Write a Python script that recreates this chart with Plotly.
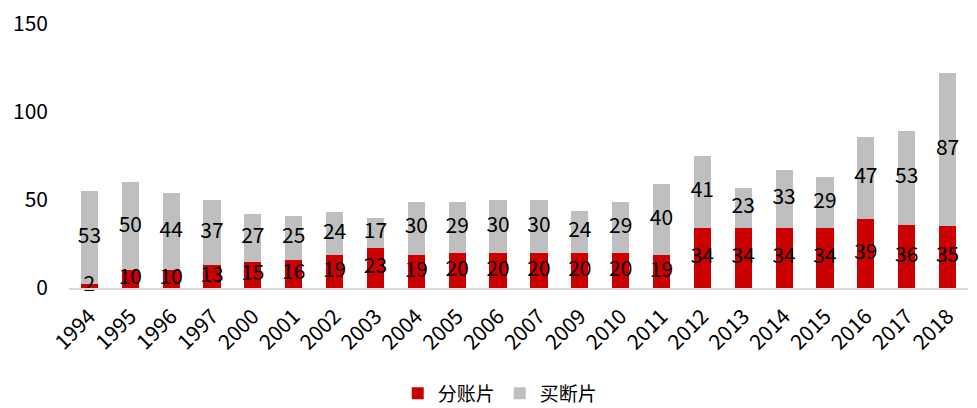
import plotly.graph_objects as go

years = ["1994", "1995", "1996", "1997", "2000", "2001", "2002", "2003", "2004", "2005", "2006",
         "2007", "2009", "2010", "2011", "2012", "2013", "2014", "2015", "2016", "2017", "2018"]
fenzhang = [2, 10, 10, 13, 15, 16, 19, 23, 19, 20, 20, 20, 20, 20, 19, 34, 34, 34, 34, 39, 36, 35]
maiduan = [53, 50, 44, 37, 27, 25, 24, 17, 30, 29, 30, 30, 24, 29, 40, 41, 23, 33, 29, 47, 53, 87]
y_ticks = [0, 50, 100, 150]

FONT = "Noto Sans CJK SC, Microsoft YaHei, sans-serif"
FS = 21

fig = go.Figure()
fig.add_trace(go.Bar(
    x=years, y=fenzhang, name="分账片", marker=dict(color="#CC0000", line_width=0),
))
fig.add_trace(go.Bar(
    x=years, y=maiduan, name="买断片", marker=dict(color="#BFBFBF", line_width=0),
))
# labels at the middle of each segment
mid_red = [v / 2 for v in fenzhang]
mid_gray = [r + g / 2 for r, g in zip(fenzhang, maiduan)]
fig.add_trace(go.Scatter(
    x=years, y=mid_red, mode="text", text=[str(v) for v in fenzhang],
    textposition="middle center", textfont=dict(size=FS, color="black", family=FONT),
    showlegend=False, hoverinfo="skip", cliponaxis=False,
))
fig.add_trace(go.Scatter(
    x=years, y=mid_gray, mode="text", text=[str(v) for v in maiduan],
    textposition="middle center", textfont=dict(size=FS, color="black", family=FONT),
    showlegend=False, hoverinfo="skip", cliponaxis=False,
))

fig.update_layout(
    barmode="stack",
    bargap=0.58,
    width=977, height=408,
    margin=dict(l=69, r=9, t=24, b=120),
    paper_bgcolor="white", plot_bgcolor="white",
    font=dict(family=FONT, size=FS, color="black"),
    legend=dict(orientation="h", xref="container", yref="container",
                x=0.512, xanchor="center", y=0.036, yanchor="middle",
                font=dict(size=19), itemwidth=30, traceorder="normal"),
    showlegend=True,
)
fig.update_xaxes(
    type="category", range=[-0.5, len(years) - 0.5], tickangle=-45, showgrid=False,
    showline=True, linecolor="#D9D9D9",
    linewidth=2, ticks="", tickfont=dict(size=FS), ticklabelstandoff=6, automargin=False,
)
fig.update_yaxes(
    range=[0, 150], tickvals=y_ticks, showgrid=False, showline=False, zeroline=False,
    ticks="", tickfont=dict(size=FS), ticklabelstandoff=20, automargin=False,
)

fig.write_html("out.html")
